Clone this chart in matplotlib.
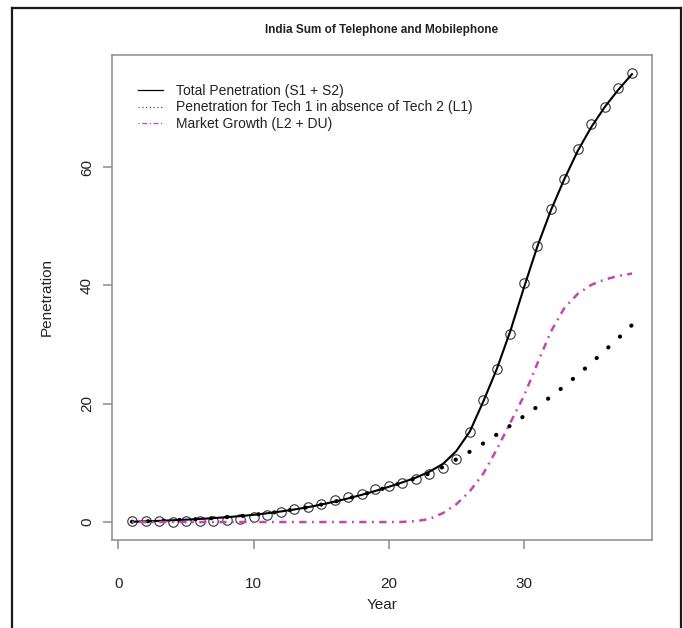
import matplotlib
matplotlib.use("Agg")
import matplotlib.pyplot as plt
from matplotlib.lines import Line2D

plt.rcParams['font.family'] = ['Liberation Sans', 'DejaVu Sans']

# ---- data ----
years = list(range(1, 39))
observed = [0.11, 0.11, 0.11, 0.06, 0.17, 0.11, 0.17, 0.39, 0.51, 0.90,
            1.24, 1.69, 2.25, 2.53, 3.04, 3.66, 4.22, 4.79, 5.57, 6.08,
            6.64, 7.21, 8.05, 9.10, 10.6, 15.3, 20.6, 25.8, 31.8, 40.4,
            46.7, 52.9, 58.0, 63.0, 67.3, 70.1, 73.3, 75.9]
total_fit = [0.05, 0.12, 0.20, 0.30, 0.40, 0.52, 0.66, 0.82, 1.00, 1.22,
             1.48, 1.78, 2.12, 2.50, 2.95, 3.45, 4.00, 4.60, 5.25, 5.95,
             6.70, 7.50, 8.50, 9.80, 12.0, 15.3, 20.4, 25.9, 32.3, 39.6,
             46.6, 52.7, 58.0, 62.8, 66.8, 70.2, 73.1, 75.7]
tech1_alone = [0.05, 0.12, 0.20, 0.30, 0.40, 0.52, 0.66, 0.82, 1.00, 1.22,
               1.48, 1.78, 2.12, 2.50, 2.95, 3.45, 4.00, 4.60, 5.25, 5.95,
               6.65, 7.40, 8.20, 9.30, 10.6, 11.9, 13.3, 14.8, 16.3, 17.9,
               19.5, 21.2, 23.0, 24.9, 26.9, 29.0, 31.1, 33.3]
market_growth = [0, 0, 0, 0, 0, 0, 0, 0, 0, 0,
                 0, 0, 0, 0, 0, 0, 0, 0, 0, 0,
                 0.02, 0.15, 0.5, 1.5, 3.0, 5.2, 8.2, 12.3, 16.8, 21.3,
                 26.8, 32.2, 36.2, 38.6, 40.1, 41.0, 41.6, 42.0]
x_ticks = [0, 10, 20, 30]
y_ticks = [0, 20, 40, 60]
title = "India Sum of Telephone and Mobilephone"
labels = ["Total Penetration (S1 + S2)",
          "Penetration for Tech 1 in absence of Tech 2 (L1)",
          "Market Growth (L2 + DU)"]

W, H = 683, 628
fig = plt.figure(figsize=(W / 100, H / 100), dpi=100)
L, R, T, B = 112, 652, 55, 540
ax = fig.add_axes([L / W, 1 - B / H, (R - L) / W, (B - T) / H])

MAG = '#C545B5'
ax.plot(years, observed, linestyle='none', marker='o', markersize=6.8,
        markerfacecolor='none', markeredgecolor='#333333', markeredgewidth=0.8)
ax.plot(years, total_fit, color='black', lw=1.5)
ax.plot(years, tech1_alone, color='black', lw=3.0,
        linestyle=(0, (0.05, 3.75)), dash_capstyle='round')
ax.plot(years, market_growth, color=MAG, lw=1.8,
        linestyle=(0, (0.73, 2.18, 2.91, 2.18)))

ax.margins(x=0.04, y=0.04)
ax.set_xticks(x_ticks)
ax.set_yticks(y_ticks)

for s in ax.spines.values():
    s.set_color('#8c8c8c')
    s.set_linewidth(1.1)
ax.tick_params(axis='both', color='#8c8c8c', width=1.1, length=6.5,
               labelsize=11, labelcolor='#222222')
ax.tick_params(axis='x', pad=20)
ax.tick_params(axis='y', pad=6.5, labelrotation=90)
for lab in ax.get_yticklabels():
    lab.set_va('center')

ax.set_xlabel('Year', fontsize=11, color='#222222', va='center')
ax.xaxis.set_label_coords(0.5, -(605 - B) / (B - T))
ax.set_ylabel('Penetration', fontsize=11, color='#222222', va='center')
ax.yaxis.set_label_coords(-(L - 47) / (R - L), 0.5)

ax.text(0.5, 1 + (T - 30) / (B - T), title, transform=ax.transAxes,
        ha='center', va='center', fontsize=8.5, fontweight='bold', color='#222222')

handles = [Line2D([], [], color='black', lw=0.9),
           Line2D([], [], color='#555555', lw=0.9, linestyle=(0, (1, 2))),
           Line2D([], [], color=MAG, lw=0.9, linestyle=(0, (1, 2, 4, 2)))]
ax.legend(handles, labels, loc='upper left',
          bbox_to_anchor=((138 - L) / (R - L), (B - 84) / (B - T)),
          frameon=False, fontsize=10, borderpad=0, borderaxespad=0,
          handlelength=1.8, handletextpad=0.95, labelspacing=0.18,
          labelcolor='#222222')

# outer frame (open at bottom)
frame_kw = dict(color='#1a1a1a', lw=1.6, transform=fig.transFigure)
fig.add_artist(Line2D([12 / W, 12 / W], [0, 1 - 7.5 / H], **frame_kw))
fig.add_artist(Line2D([12 / W, 681 / W], [1 - 7.5 / H, 1 - 7.5 / H], **frame_kw))
fig.add_artist(Line2D([681 / W, 681 / W], [0, 1 - 7.5 / H], **frame_kw))

fig.savefig('out.png', dpi=100)
